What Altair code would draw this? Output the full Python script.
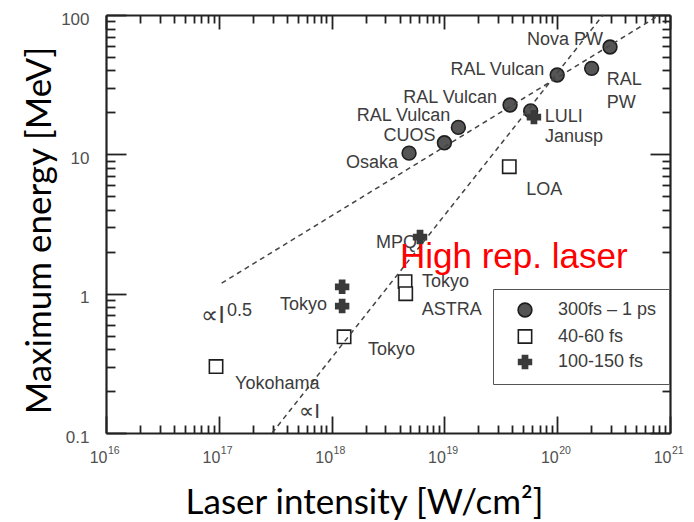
import altair as alt
import pandas as pd

# ---------------- data ----------------
types = ["300fs – 1 ps", "40-60 fs", "100-150 fs"]

circle_names = ["Osaka", "CUOS", "RAL Vulcan", "RAL Vulcan", "LULI", "RAL Vulcan", "RAL PW", "Nova PW"]
circle_x = [4.86e18, 1.0e19, 1.33e19, 3.82e19, 5.82e19, 1.0e20, 2.02e20, 2.94e20]
circle_y = [10.2, 12.1, 15.6, 22.6, 20.5, 37.1, 41.4, 58.9]

square_names = ["Yokohama", "Tokyo", "Tokyo", "ASTRA", "LOA"]
square_x = [9.45e16, 1.29e18, 4.48e18, 4.54e18, 3.76e19]
square_y = [0.30, 0.49, 1.22, 1.0, 8.15]

cross_names = ["Tokyo", "Tokyo", "MPQ", "Janusp"]
cross_x = [1.24e18, 1.24e18, 6.08e18, 6.22e19]
cross_y = [1.12, 0.815, 2.55, 18.5]

# dashed scaling lines (I^0.5 and I)
line1_x = [1.06e17, 7.6e20]
line1_y = [1.19, 97.0]
line2_x = [2.97e17, 2.55e20]
line2_y = [0.1, 100.0]

x_major = [1e16, 1e17, 1e18, 1e19, 1e20, 1e21]
x_exp = ["16", "17", "18", "19", "20", "21"]
x_minor = [m * 10.0 ** e for e in range(16, 21) for m in range(2, 10)]
y_major = [0.1, 1, 10, 100]
y_labels = ["0.1", "1", "10", "100"]
y_minor = [m * 10.0 ** e for e in range(-1, 2) for m in range(2, 10)]

# ---------------- layout / style ----------------
W, H = 564, 418
PAD = {"left": 106, "top": 15, "right": 24, "bottom": 89}
LBL_FONT = "Liberation Sans"
LBL_COLOR = "#3c3c3c"
TICK_COLOR = "#222222"
X_DOM = [1e16, 1e21]
Y_DOM = [0.1, 100]

xs = alt.Scale(type="log", domain=X_DOM, nice=False)
ys = alt.Scale(type="log", domain=Y_DOM, nice=False)


def X(field="x", **kw):
    kw.setdefault("axis", None)
    return alt.X(f"{field}:Q", scale=xs, **kw)


def Y(field="y", **kw):
    kw.setdefault("axis", None)
    return alt.Y(f"{field}:Q", scale=ys, **kw)


pts = pd.DataFrame({
    "x": circle_x + square_x + cross_x,
    "y": circle_y + square_y + cross_y,
    "name": circle_names + square_names + cross_names,
    "type": [types[0]] * len(circle_x) + [types[1]] * len(square_x) + [types[2]] * len(cross_x),
})

y_label_expr = " : ".join(
    f"datum.value == {v} ? '{t}'" for v, t in zip(y_major, y_labels)
) + " : ''"

legend = alt.Legend(
    title=None, orient="none", legendX=387, legendY=274, zindex=1,
    fillColor="white", strokeColor="#555555", padding=12, rowPadding=5.5,
    symbolOffset=11, labelOffset=24, labelFont=LBL_FONT, labelFontSize=18,
    labelColor=LBL_COLOR, symbolStrokeWidth=1.6,
)

# top / right frame axes (declared first so that every later axis stays separate)
frame_df = pd.DataFrame({"x": X_DOM, "y": Y_DOM})
frame = alt.Chart(frame_df).mark_point(opacity=0).encode(
    x=X(axis=alt.Axis(orient="top", labels=False, ticks=False, title=None, grid=False,
                      domainColor=TICK_COLOR, domainWidth=2.2)),
    y=Y(axis=alt.Axis(orient="right", labels=False, ticks=False, title=None, grid=False,
                      domainColor=TICK_COLOR, domainWidth=2.2)),
)

points = alt.Chart(pts).mark_point(strokeWidth=1.6, opacity=1).encode(
    x=X(axis=alt.Axis(orient="bottom", values=x_major, labelExpr="'10'", ticks=False, tickSize=0,
                      labelAlign="right", labelBaseline="middle", labelPadding=24, labelOffset=1,
                      labelFont=LBL_FONT, labelFontSize=16, labelColor="#505050", grid=False,
                      domainColor=TICK_COLOR, domainWidth=2.2,
                      title="Laser intensity [W/cm²]", titleFont="Lato", titleFontSize=35,
                      titleFontWeight="normal", titleColor="black", titleX=258, titleY=80,
                      titleBaseline="alphabetic", titleAlign="center")),
    y=Y(axis=alt.Axis(orient="left", values=y_major, labelExpr=y_label_expr, ticks=False, tickSize=0,
                      labelPadding=17, labelOffset=4, labelFont=LBL_FONT, labelFontSize=17,
                      labelColor="#505050", grid=False, domainColor=TICK_COLOR, domainWidth=2.2,
                      title="Maximum energy [MeV]", titleFont="Lato", titleFontSize=35,
                      titleFontWeight="normal", titleColor="black", titleX=-56, titleY=215,
                      titleAngle=270, titleBaseline="alphabetic", titleAlign="center")),
    shape=alt.Shape("type:N", scale=alt.Scale(domain=types, range=["circle", "square", "cross"]),
                    legend=legend),
    fill=alt.Fill("type:N", scale=alt.Scale(domain=types, range=["#555555", "#ffffff", "#3a3a3a"]),
                  legend=legend),
    stroke=alt.Stroke("type:N", scale=alt.Scale(domain=types, range=["#1e1e1e", "#1e1e1e", "#3a3a3a"]),
                      legend=legend),
    size=alt.Size("type:N", scale=alt.Scale(domain=types, range=[190, 165, 40]), legend=legend),
)

# dashed lines
lines_df = pd.DataFrame({
    "x": line1_x + line2_x,
    "y": line1_y + line2_y,
    "g": ["a", "a", "b", "b"],
})
lines = alt.Chart(lines_df).mark_line(strokeDash=[5, 4], strokeWidth=1.5, color="#444444").encode(
    x=X(), y=Y(), detail="g:N"
)


# inward ticks: tick-only axes with a negative (inward) tick length
def tick_axis(vals, orient, length):
    ax = alt.Axis(orient=orient, values=vals, labels=False, domain=False, grid=False, title=None,
                  ticks=True, tickSize={"expr": str(-length)}, tickColor=TICK_COLOR, tickWidth=1.8)
    if orient in ("bottom", "top"):
        df = pd.DataFrame({"x": vals})
        return alt.Chart(df).mark_point(opacity=0, size=0).encode(x=X(axis=ax))
    df = pd.DataFrame({"y": vals})
    return alt.Chart(df).mark_point(opacity=0, size=0).encode(y=Y(axis=ax))


tick_layers = [
    tick_axis(x_major, "bottom", 17), tick_axis(x_minor, "bottom", 8),
    tick_axis(x_major, "top", 14), tick_axis(x_minor, "top", 8),
    tick_axis(y_major, "left", 20), tick_axis(y_minor, "left", 9),
    tick_axis(y_major, "right", 20), tick_axis(y_minor, "right", 8),
]

# superscript exponents of x tick labels
exps = alt.Chart(pd.DataFrame({"x": x_major, "t": x_exp})).mark_text(
    align="left", baseline="middle", dx=2, font=LBL_FONT, fontSize=10.5, color="#505050"
).encode(x=X(), y=alt.value(H + 18), text="t:N")

# point labels: (text, x, y, dx, dy, align)
labels = [
    ("Nova PW", circle_x[7], circle_y[7], -7, -7, "right"),
    ("RAL Vulcan", circle_x[5], circle_y[5], -13, -5, "right"),
    ("RAL", circle_x[6], circle_y[6], 15, 12, "left"),
    ("PW", circle_x[6], circle_y[6], 15, 35, "left"),
    ("RAL Vulcan", circle_x[3], circle_y[3], -13, -7, "right"),
    ("RAL Vulcan", circle_x[2], circle_y[2], -8, -11, "right"),
    ("CUOS", circle_x[1], circle_y[1], -9, -7, "right"),
    ("Osaka", circle_x[0], circle_y[0], -11, 10, "right"),
    ("LULI", circle_x[4], circle_y[4], 14, 6, "left"),
    ("Janusp", cross_x[3], cross_y[3], 11, 20, "left"),
    ("LOA", square_x[4], square_y[4], 17, 23, "left"),
    ("MPQ", cross_x[2], cross_y[2], -3, 6, "right"),
    ("Tokyo", square_x[2], square_y[2], 17, 0, "left"),
    ("ASTRA", square_x[3], square_y[3], 16, 16, "left"),
    ("Tokyo", square_x[1], square_y[1], 24, 13, "left"),
    ("Tokyo", cross_x[1], cross_y[1], -15, -1, "right"),
    ("Yokohama", square_x[0], square_y[0], 19, 17, "left"),
]
label_layers = []
for t, lx, ly, dx, dy, al in labels:
    label_layers.append(
        alt.Chart(pd.DataFrame({"x": [lx], "y": [ly], "t": [t]})).mark_text(
            align=al, baseline="middle", dx=dx, dy=dy, font=LBL_FONT, fontSize=18, color=LBL_COLOR
        ).encode(x=X(), y=Y(), text="t:N")
    )

# annotations (data coordinates)
annots = [
    ("∝I", 1.135e17, 0.616, 24, "right"),
    ("0.5", 1.18e17, 0.692, 18, "left"),
    ("∝I", 7.89e17, 0.128, 21, "right"),
]
annot_layers = []
for t, ax, ay, fs, al in annots:
    annot_layers.append(
        alt.Chart(pd.DataFrame({"x": [ax], "y": [ay], "t": [t]})).mark_text(
            align=al, baseline="alphabetic", font=LBL_FONT, fontSize=fs, color=LBL_COLOR
        ).encode(x=X(), y=Y(), text="t:N")
    )

red_text = alt.Chart(pd.DataFrame({"x": [4.04e18], "y": [1.53], "t": ["High rep. laser"]})).mark_text(
    align="left", baseline="alphabetic", font="Liberation Sans", fontSize=35, color="#ff0000"
).encode(x=X(), y=Y(), text="t:N")

chart = alt.layer(
    frame, points, *tick_layers, lines, exps, *label_layers, *annot_layers, red_text
).properties(
    width=W, height=H, padding=PAD, autosize=alt.AutoSizeParams(type="none")
).configure_view(stroke=None).configure_legend(
    strokeWidth=1.5,
).configure(background="white")

chart.save("out.html", embed_options={"renderer": "svg", "actions": False})
